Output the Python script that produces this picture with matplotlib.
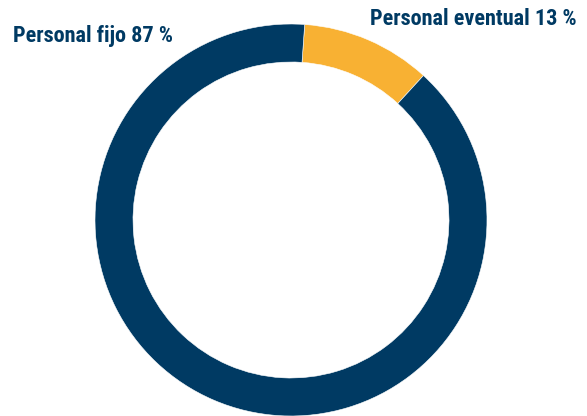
# Donut chart: personal fijo vs eventual
import matplotlib
matplotlib.use("Agg")
import matplotlib.pyplot as plt

# Data (labels; wedge sizes as drawn)
categories = ["Personal eventual", "Personal fijo"]
label_pcts = [13, 87]
wedge_sizes = [10.7, 89.3]
colors = ["#F8B133", "#003A63"]

navy = "#003A63"

fig = plt.figure(figsize=(5.87, 4.16), dpi=100)
ax = fig.add_axes([0, 0, 1, 1])

# Pie in pixel-like data coords (y up)
ax.pie(wedge_sizes, colors=colors, startangle=86, counterclock=False,
       center=(291, 196), radius=196,
       wedgeprops=dict(width=38, edgecolor="white", linewidth=0.4))
ax.set_xlim(0, 587)
ax.set_ylim(0, 416)
ax.set_aspect("equal", adjustable="box")
ax.axis("off")

font = ["Roboto Condensed", "DejaVu Sans"]
ax.text(13, 416 - 36, "%s %d %%" % (categories[1], label_pcts[1]),
        ha="left", va="center", fontsize=16, fontweight="bold",
        color=navy, family=font)
ax.text(577, 416 - 19, "%s %d %%" % (categories[0], label_pcts[0]),
        ha="right", va="center", fontsize=16, fontweight="bold",
        color=navy, family=font)

plt.savefig("out.png", dpi=100)
